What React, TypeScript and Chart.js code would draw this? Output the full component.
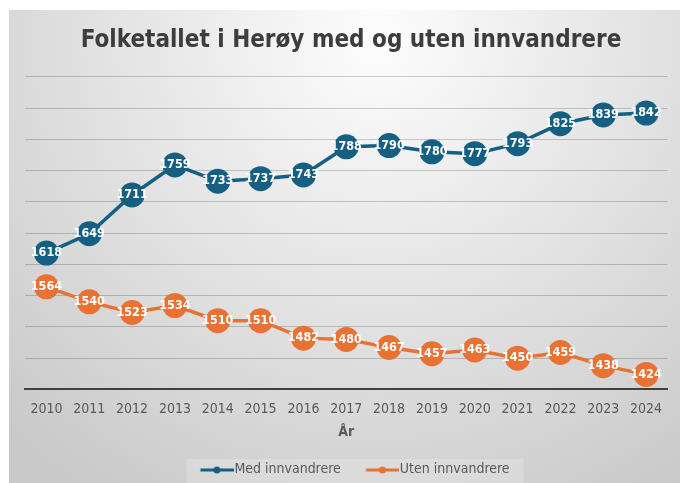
import React, { useEffect, useRef } from "react";
import { Chart, registerables } from "chart.js";

Chart.register(...registerables);

const years = ["2010", "2011", "2012", "2013", "2014", "2015", "2016", "2017", "2018", "2019", "2020", "2021", "2022", "2023", "2024"];
const medInnvandrere = [1618, 1649, 1711, 1759, 1733, 1737, 1743, 1788, 1790, 1780, 1777, 1793, 1825, 1839, 1842];
const utenInnvandrere = [1564, 1540, 1523, 1534, 1510, 1510, 1482, 1480, 1467, 1457, 1463, 1450, 1459, 1438, 1424];
const seriesNames = ["Med innvandrere", "Uten innvandrere"];
const titleText = "Folketallet i Herøy med og uten innvandrere";
const axisTitle = "År";

const BLUE = "#156082";
const ORANGE = "#E97132";
const NARROW = "'Liberation Sans Narrow', 'DejaVu Sans Condensed', Roboto, sans-serif";

function legendIcon(color: string): HTMLCanvasElement {
  const c = document.createElement("canvas");
  c.width = 48;
  c.height = 12;
  const ctx = c.getContext("2d")!;
  ctx.strokeStyle = color;
  ctx.lineWidth = 3;
  ctx.beginPath();
  ctx.moveTo(14.5, 7);
  ctx.lineTo(48, 7);
  ctx.stroke();
  ctx.fillStyle = color;
  ctx.beginPath();
  ctx.arc(31, 7, 3.5, 0, Math.PI * 2);
  ctx.fill();
  return c;
}

const bgPlugin = {
  id: "bgPlugin",
  beforeDraw(chart: any) {
    const { ctx, width, height } = chart;
    ctx.save();
    const g = ctx.createRadialGradient(width * 0.55, 30, 0, width * 0.55, 30, width * 0.8);
    g.addColorStop(0, "#fdfdfd");
    g.addColorStop(1, "#c9c9c9");
    ctx.fillStyle = g;
    ctx.fillRect(0, 0, width, height);
    const lg = chart.legend;
    if (lg && lg.legendHitBoxes && lg.legendHitBoxes.length) {
      const boxes = lg.legendHitBoxes;
      const minX = Math.min(...boxes.map((b: any) => b.left));
      const maxX = Math.max(...boxes.map((b: any) => b.left + b.width));
      const minY = Math.min(...boxes.map((b: any) => b.top));
      ctx.fillStyle = "rgba(255,255,255,0.2)";
      ctx.fillRect(minX - 6, minY - 3, maxX - minX + 20, height - minY + 3);
    }
    ctx.restore();
  },
};

const labelPlugin = {
  id: "labelPlugin",
  afterDatasetsDraw(chart: any) {
    const { ctx } = chart;
    ctx.save();
    ctx.font = "bold 12.5px " + NARROW;
    ctx.fillStyle = "#ffffff";
    ctx.textAlign = "center";
    ctx.textBaseline = "middle";
    chart.data.datasets.forEach((ds: any, i: number) => {
      const meta = chart.getDatasetMeta(i);
      meta.data.forEach((pt: any, j: number) => {
        ctx.fillText(String(ds.data[j]), pt.x, pt.y);
      });
    });
    ctx.restore();
  },
};

export default function App() {
  const ref = useRef<HTMLCanvasElement>(null);
  useEffect(() => {
    document.body.style.margin = "0";
    const chart = new Chart(ref.current!, {
      type: "line",
      data: {
        labels: years,
        datasets: [
          {
            label: seriesNames[0],
            data: medInnvandrere,
            borderColor: BLUE,
            backgroundColor: BLUE,
            borderWidth: 3.5,
            pointRadius: 12.5,
            pointHoverRadius: 12.5,
            pointBorderWidth: 0,
            pointStyle: "circle",
          },
          {
            label: seriesNames[1],
            data: utenInnvandrere,
            borderColor: ORANGE,
            backgroundColor: ORANGE,
            borderWidth: 3.5,
            pointRadius: 12.5,
            pointHoverRadius: 12.5,
            pointBorderWidth: 0,
            pointStyle: "circle",
          },
        ],
      },
      options: {
        animation: false,
        responsive: true,
        maintainAspectRatio: false,
        layout: { padding: { left: 16, right: 3, top: 0, bottom: 0 } },
        plugins: {
          tooltip: { enabled: false },
          title: {
            display: true,
            text: titleText,
            color: "#3d3d3d",
            font: { family: NARROW, size: 24, weight: "bold", lineHeight: 1.2 },
            padding: { top: 16, bottom: 22 },
          },
          legend: {
            position: "bottom",
            labels: {
              usePointStyle: true,
              pointStyleWidth: 35,
              generateLabels: (chart: any) =>
                chart.data.datasets.map((ds: any, i: number) => ({
                  text: ds.label,
                  pointStyle: legendIcon(i === 0 ? BLUE : ORANGE),
                  fillStyle: ds.borderColor,
                  strokeStyle: ds.borderColor,
                  fontColor: "#595959",
                  lineWidth: 0,
                  hidden: false,
                  datasetIndex: i,
                })),
              color: "#595959",
              font: { family: NARROW, size: 14 },
              padding: 17,
            },
          },
        },
        scales: {
          x: {
            offset: true,
            grid: { display: false, drawTicks: false },
            border: { display: true, color: "#404040", width: 2 },
            ticks: { color: "#595959", font: { family: NARROW, size: 14 }, padding: 12, maxRotation: 0 },
            title: {
              display: true,
              text: axisTitle,
              color: "#595959",
              font: { family: NARROW, size: 14, weight: "bold" },
              padding: { top: -6, bottom: 4 },
            },
          },
          y: {
            min: 1400,
            max: 1900,
            grid: { color: "rgba(0,0,0,0.19)", lineWidth: 1, drawTicks: false },
            border: { display: false },
            ticks: { display: false, stepSize: 50 },
          },
        },
      },
      plugins: [bgPlugin, labelPlugin],
    });
    return () => chart.destroy();
  }, []);
  return (
    <div style={{ position: "absolute", left: 9, top: 10, width: 671, height: 476 }}>
      <canvas ref={ref} />
    </div>
  );
}
